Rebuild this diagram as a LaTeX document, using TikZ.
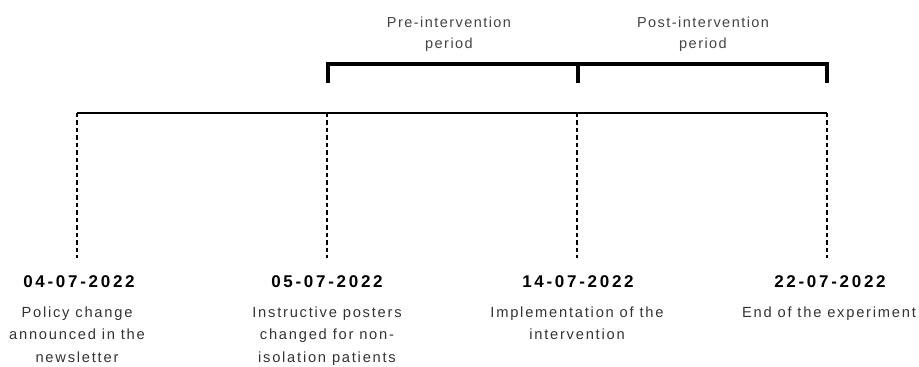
\documentclass[tikz,border=0pt]{standalone}
\usepackage{fontspec}
\setmainfont{Liberation Sans}[LetterSpace=12]
\newfontfamily\datefont{Liberation Sans}[LetterSpace=16]
\newfontfamily\hdrfont{Liberation Sans}[LetterSpace=10]
\definecolor{txtgray}{HTML}{333333}
\definecolor{hdrgray}{HTML}{444444}
\begin{document}
\begin{tikzpicture}[x=1pt,y=-1pt,
  timeline/.style={line width=2pt, draw=black},
  tick/.style={line width=1.5pt, dash pattern=on 4.5pt off 3pt, draw=black},
  bracket/.style={line width=4pt, draw=black, line cap=butt},
  datelbl/.style={font=\datefont\bfseries\fontsize{17}{20}\selectfont, text=black, anchor=base, inner sep=0pt},
  desclbl/.style={font=\fontsize{14.7}{22.5}\selectfont, text=txtgray, align=center, anchor=north, inner sep=0pt},
  hdrlbl/.style={font=\hdrfont\fontsize{14.5}{21}\selectfont, text=hdrgray, align=center, anchor=north, inner sep=0pt}]
\useasboundingbox (0,0) rectangle (919,367);
% timeline points
\coordinate (t1) at (77,112.5);
\coordinate (t2) at (327,112.5);
\coordinate (t3) at (577,112.5);
\coordinate (t4) at (827,112.5);
\coordinate (b1) at (77,258);
\coordinate (b2) at (327,258);
\coordinate (b3) at (577,258);
\coordinate (b4) at (827,258);
% bracket points
\coordinate (k1) at (328,83);
\coordinate (k1t) at (328,62);
\coordinate (k2) at (578,83);
\coordinate (k2t) at (578,62);
\coordinate (k3) at (827,83);
\coordinate (k3t) at (827,62);

\draw[timeline] (t1) -- (t4);
\foreach \i in {1,2,3,4} \draw[tick] (t\i) -- (b\i);

\draw[bracket] (k1) -- ([yshift=-2pt]k1t) -- ([yshift=-2pt]k3t) -- (k3);
\draw[bracket] (k2t) -- (k2);

\node[hdrlbl] (pre) at (449,16.5) {Pre-intervention\\period};
\node[hdrlbl] (post) at (703,16.5) {Post-intervention\\period};

\node[datelbl] (d1) at (79,287) {04-07-2022};
\node[datelbl] (d2) at (327,287) {05-07-2022};
\node[datelbl] (d3) at (578,287) {14-07-2022};
\node[datelbl] (d4) at (830,287) {22-07-2022};

\node[desclbl] (e1) at (77,306.5) {Policy change\\announced in the\\newsletter};
\node[desclbl] (e2) at (327,306.5) {Instructive posters\\changed for non-\\isolation patients};
\node[desclbl] (e3) at (577,306.5) {Implementation of the\\intervention};
\node[desclbl] (e4) at (829,306.5) {End of the experiment};
\end{tikzpicture}
\end{document}
